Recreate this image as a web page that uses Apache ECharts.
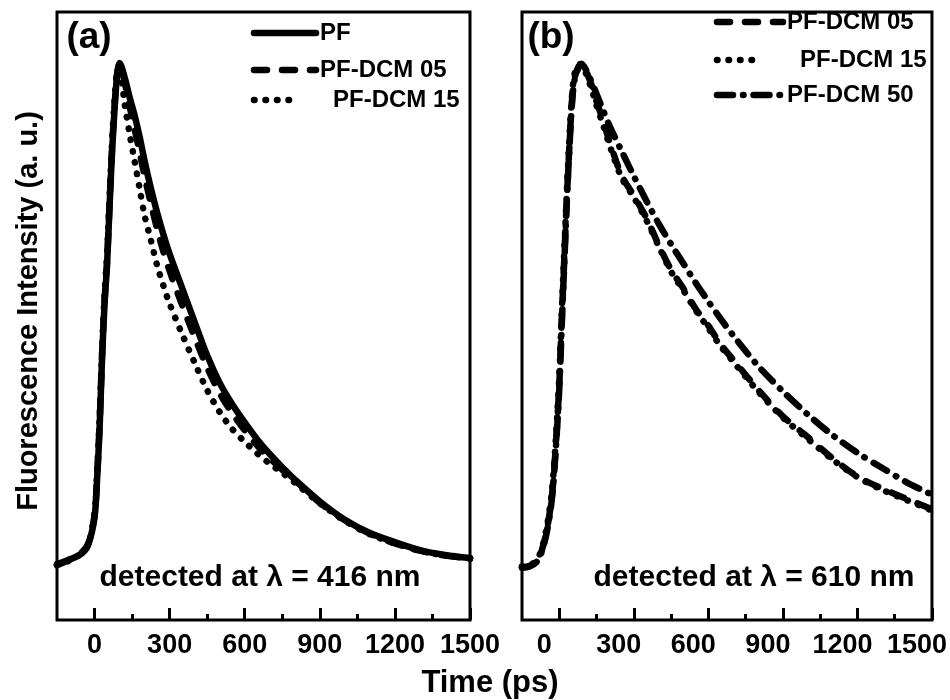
<!DOCTYPE html>
<html>
<head>
<meta charset="utf-8">
<script src="https://cdn.jsdelivr.net/npm/echarts@6/dist/echarts.min.js"></script>
<style>
  html, body { margin: 0; padding: 0; background: #fff; }
  #chart { width: 950px; height: 700px; }
</style>
</head>
<body>
<div id="chart"></div>
<script>
// panel (a): detected at 416 nm
var timeA = [-150, -100, -50, -25, 0, 10, 20, 30, 40, 50, 60, 70, 80, 90, 100, 120, 140, 160, 180, 200,
    225, 250, 275, 300, 350, 400, 450, 500, 550, 600, 650, 700, 750, 800, 900, 1000, 1100, 1200, 1300, 1400, 1500];
var pfA = [9.0, 9.9, 11.0, 12.4, 16.9, 23.0, 31.3, 43.0, 52.0, 58.5, 68.0, 77.0, 84.0, 89.5, 91.6, 89.3, 86.0, 83.0, 79.5, 75.5,
    71.0, 67.0, 63.4, 60.2, 54.6, 49.0, 43.5, 39.0, 35.5, 32.5, 29.7, 27.3, 25.1, 23.1, 19.5, 16.5, 14.3, 12.8, 11.5, 10.7, 10.2];
var dcm05A = [9.2, 10.0, 11.2, 12.6, 17.2, 23.5, 32.0, 43.5, 52.5, 59.0, 68.5, 77.5, 84.5, 89.8, 91.4, 88.5, 84.5, 80.8, 77.0, 73.0,
    68.5, 64.3, 60.6, 57.4, 51.8, 46.5, 41.5, 37.3, 34.0, 31.2, 28.7, 26.6, 24.7, 23.0, 19.3, 16.4, 14.2, 12.6, 11.4, 10.6, 10.1];
var dcm15A = [9.0, 9.8, 11.0, 12.5, 17.5, 24.0, 33.0, 44.0, 53.5, 60.0, 69.5, 78.5, 85.5, 90.0, 90.5, 85.0, 80.0, 75.5, 71.0, 66.5,
    62.5, 58.3, 55.0, 52.0, 47.0, 42.3, 37.8, 34.2, 31.4, 29.3, 27.4, 25.7, 24.2, 22.6, 19.2, 16.3, 14.1, 12.6, 11.4, 10.6, 10.1];

// panel (b): detected at 610 nm
var timeB = [-150, -120, -90, -70, -50, -30, -15, 0, 10, 20, 30, 40, 50, 60, 75, 90, 110, 130, 150, 175,
    200, 250, 300, 350, 400, 450, 500, 550, 600, 650, 700, 800, 900, 1000, 1100, 1200, 1300, 1400, 1500];
var dcm05B = [8.7, 8.9, 9.7, 11.5, 14.8, 20.2, 28.0, 38.7, 49.3, 59.2, 69.0, 77.3, 84.7, 88.8, 90.8, 91.6, 90.1, 88.0, 85.3, 82.3,
    79.0, 73.2, 69.8, 66.2, 61.7, 57.6, 54.5, 51.1, 48.4, 45.3, 42.8, 37.9, 33.5, 30.1, 26.6, 23.6, 21.6, 19.9, 18.2];
var dcm15B = [8.8, 9.0, 9.9, 11.8, 15.3, 21.0, 29.0, 40.0, 50.5, 60.5, 70.0, 78.5, 85.5, 89.5, 91.3, 91.4, 89.6, 87.3, 84.6, 81.6,
    78.4, 72.8, 69.5, 65.8, 61.5, 57.3, 54.2, 50.9, 48.0, 45.0, 42.5, 37.6, 33.3, 29.8, 26.4, 23.5, 21.4, 19.7, 18.0];
var dcm50B = [8.6, 8.8, 9.6, 11.3, 14.5, 19.8, 27.5, 38.0, 48.5, 58.5, 68.5, 77.0, 84.3, 88.5, 90.6, 91.5, 90.3, 88.5, 86.5, 84.0,
    81.5, 77.2, 73.0, 69.0, 65.2, 61.8, 58.6, 55.4, 52.4, 49.5, 46.8, 41.8, 37.6, 33.8, 30.4, 27.5, 25.0, 22.6, 20.6];

var majorTicks = [0, 300, 600, 900, 1200, 1500];
var minorTicks = [150, 450, 750, 1050, 1350];

var FONT = '"Liberation Sans", Arial, sans-serif';
var LW = 6.5;
var DASH = [13, 15];
var DOT = [0.5, 11];
var DASHDOT = [16, 10, 0.5, 10];

function pairs(t, v) {
    return t.map(function (x, i) { return [x, v[i]]; });
}

function lineSeries(name, axis, t, v, dash) {
    return {
        name: name,
        type: 'line',
        xAxisIndex: axis * 2,
        yAxisIndex: axis,
        data: pairs(t, v),
        showSymbol: false,
        symbol: 'none',
        smooth: 0.3,
        lineStyle: { color: '#000', width: LW, type: dash, cap: 'round', join: 'round' }
    };
}

function mainAxis(g, pad) {
    return {
        gridIndex: g, type: 'value', min: -150, max: 1500,
        axisLine: { show: false },
        splitLine: { show: false },
        axisTick: { inside: true, length: 12, customValues: majorTicks, lineStyle: { color: '#000', width: 3 } },
        axisLabel: {
            customValues: majorTicks, color: '#000', fontFamily: FONT, fontWeight: 'bold',
            fontSize: 27, margin: 12, padding: pad,
            formatter: function (v) { return String(v); }
        }
    };
}

function minorAxis(g) {
    return {
        gridIndex: g, type: 'value', min: -150, max: 1500, position: 'bottom',
        axisLine: { show: false },
        splitLine: { show: false },
        axisTick: { inside: true, length: 6, customValues: minorTicks, lineStyle: { color: '#000', width: 3 } },
        axisLabel: { show: false }
    };
}

function txt(s, x, y, size, align, rot) {
    return {
        type: 'text', x: x, y: y, rotation: rot || 0, z: 10,
        style: { text: s, fill: '#000', font: 'bold ' + size + 'px ' + FONT, align: align || 'center', verticalAlign: 'middle' }
    };
}

function legLine(x1, x2, y, dash) {
    return {
        type: 'line', z: 10,
        shape: { x1: x1, y1: y, x2: x2, y2: y },
        style: { stroke: '#000', lineWidth: LW, lineDash: dash, lineCap: 'round' }
    };
}

var chart = echarts.init(document.getElementById('chart'));
chart.setOption({
    animation: false,
    backgroundColor: '#fff',
    grid: [
        { left: 57, top: 12, width: 413, height: 608, show: true, borderColor: '#000', borderWidth: 3 },
        { left: 522, top: 12, width: 413, height: 608, show: true, borderColor: '#000', borderWidth: 3 }
    ],
    xAxis: [mainAxis(0, 0), minorAxis(0), mainAxis(1, [0, 30, 0, 0]), minorAxis(1)],
    yAxis: [
        { gridIndex: 0, type: 'value', min: 0, max: 100, show: false },
        { gridIndex: 1, type: 'value', min: 0, max: 100, show: false }
    ],
    series: [
        lineSeries('PF-DCM 05', 0, timeA, dcm05A, DASH),
        lineSeries('PF-DCM 15', 0, timeA, dcm15A, DOT),
        lineSeries('PF', 0, timeA, pfA, 'solid'),
        lineSeries('PF-DCM 05', 1, timeB, dcm05B, DASH),
        lineSeries('PF-DCM 15', 1, timeB, dcm15B, DOT),
        lineSeries('PF-DCM 50', 1, timeB, dcm50B, DASHDOT)
    ],
    graphic: [
        txt('(a)', 89, 38, 37),
        txt('(b)', 551, 38, 37),
        txt('detected at \u03bb = 416 nm', 260, 578, 30),
        txt('detected at \u03bb = 610 nm', 754, 578, 30),
        txt('Time (ps)', 490, 683, 31),
        txt('Fluorescence Intensity (a. u.)', 29, 311, 29, 'center', Math.PI / 2),
        legLine(254, 316, 33, null),
        txt('PF', 320, 33, 24, 'left'),
        legLine(254, 316, 70, DASH),
        txt('PF-DCM 05', 320, 70, 24, 'left'),
        legLine(254, 293, 100, DOT),
        txt('PF-DCM 15', 333, 100, 24, 'left'),
        legLine(717, 783, 22, DASH),
        txt('PF-DCM 05', 787, 22, 24, 'left'),
        legLine(717, 762, 60, DOT),
        txt('PF-DCM 15', 800, 60, 24, 'left'),
        legLine(717, 783, 95, DASHDOT),
        txt('PF-DCM 50', 787, 95, 24, 'left')
    ]
});
</script>
</body>
</html>
